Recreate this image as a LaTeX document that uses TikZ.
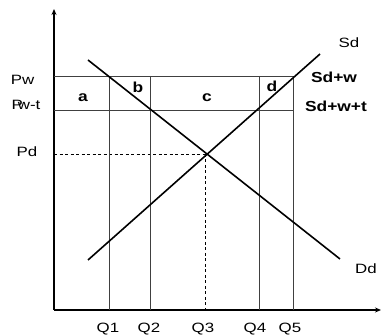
\documentclass[tikz,border=0pt]{standalone}
\usepackage{fontspec}
\setmainfont{Liberation Sans}
\usetikzlibrary{arrows.meta}
\begin{document}
\begin{tikzpicture}[x=1pt,y=-1pt,
  axis/.style={line width=1.6pt,-{Stealth[length=6pt,width=5pt]}},
  grid/.style={line width=0.9pt,draw=black!75},
  curve/.style={line width=1.6pt},
  dashline/.style={line width=0.8pt,dash pattern=on 3pt off 2.5pt},
  lab/.style={inner sep=0pt,xscale=1.25,font=\fontsize{13.5}{13.5}\selectfont},
  blab/.style={inner sep=0pt,xscale=1.2,font=\fontsize{14.5}{14.5}\selectfont\bfseries}]
\useasboundingbox (0,0) rectangle (384,336);
% axes
\coordinate (O) at (54,310);
\coordinate (ytop) at (54,9);
\coordinate (xend) at (381,310);
\draw[axis] (O) -- (ytop);
\draw[axis,line width=1.2pt] (O) -- (xend);
% price lines
\coordinate (pw0) at (54,76);
\coordinate (pw1) at (293,76);
\coordinate (pt0) at (54,110);
\coordinate (pt1) at (293,110);
\coordinate (pd0) at (54,154);
\coordinate (E) at (205,154);
\draw[grid] (pw0) -- (pw1);
\draw[grid] (pt0) -- (pt1);
\draw[dashline] (pd0) -- (E);
% quantity lines
\foreach \n/\x in {1/109,2/150,4/259,5/293}{
  \coordinate (qt\n) at (\x,76);
  \coordinate (qb\n) at (\x,310);
  \draw[grid] (qt\n) -- (qb\n);
}
\coordinate (qb3) at (205,310);
\draw[dashline] (E) -- (qb3);
% curves
\coordinate (d0) at (88,60);
\coordinate (d1) at (340,259);
\coordinate (s0) at (88,260);
\coordinate (s1) at (320,54);
\draw[curve] (d0) -- (d1);
\draw[curve] (s0) -- (s1);
% labels
\node[lab] (Pw) at (22.5,80) {Pw};
\node[lab] (Pwt) at (26,105) {P\kern-0.3em w-t};
\node[lab] (Pd) at (27,151.5) {Pd};
\node[lab] (Q1) at (108,329) {Q1};
\node[lab] (Q2) at (149,329) {Q2};
\node[lab] (Q3) at (203,329) {Q3};
\node[lab] (Q4) at (255,329) {Q4};
\node[lab] (Q5) at (290,329) {Q5};
\node[lab] (Sd) at (349,43) {Sd};
\node[lab] (Dd) at (366,269) {Dd};
\node[blab] (Sdw) at (334,77) {Sd+w};
\node[blab] (Sdwt) at (336,106) {Sd+w+t};
\node[blab] (a) at (83,98) {a};
\node[blab] (b) at (138,87) {b};
\node[blab] (c) at (207,98) {c};
\node[blab] (d) at (272,86) {d};
\end{tikzpicture}
\end{document}
